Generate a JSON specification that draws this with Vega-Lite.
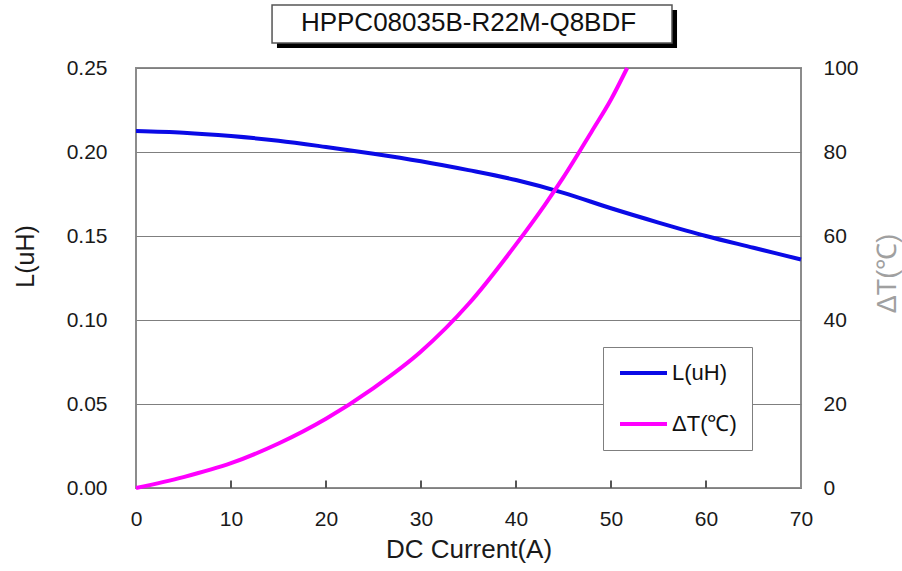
{
  "$schema": "https://vega.github.io/schema/vega-lite/v6.json",
  "width": 665,
  "height": 420,
  "autosize": {"type": "none"},
  "padding": {"left": 136, "top": 68, "right": 101, "bottom": 83},
  "background": "white",
  "config": {
    "view": {"stroke": "#8c8c8c", "strokeWidth": 2},
    "font": "Liberation Sans",
    "axis": {"labelFont": "Liberation Sans", "titleFont": "Liberation Sans", "labelColor": "#1a1a1a", "titleColor": "#1a1a1a", "titleFontWeight": "normal"}
  },
  "title": {"text": "HPPC08035B-R22M-Q8BDF", "fontSize": 26, "fontWeight": "normal", "color": "#111111", "anchor": "middle", "offset": 0, "dy": 32, "font": "Liberation Sans"},
  "datasets": {
    "curves": [
      {"I": 0, "series": "L(uH)", "v": 0.2125},
      {"I": 5, "series": "L(uH)", "v": 0.2115},
      {"I": 10, "series": "L(uH)", "v": 0.2095},
      {"I": 15, "series": "L(uH)", "v": 0.2067},
      {"I": 20, "series": "L(uH)", "v": 0.2030},
      {"I": 25, "series": "L(uH)", "v": 0.1990},
      {"I": 30, "series": "L(uH)", "v": 0.1945},
      {"I": 35, "series": "L(uH)", "v": 0.1892},
      {"I": 40, "series": "L(uH)", "v": 0.1833},
      {"I": 45, "series": "L(uH)", "v": 0.1757},
      {"I": 50, "series": "L(uH)", "v": 0.1665},
      {"I": 55, "series": "L(uH)", "v": 0.1580},
      {"I": 60, "series": "L(uH)", "v": 0.1500},
      {"I": 65, "series": "L(uH)", "v": 0.1430},
      {"I": 70, "series": "L(uH)", "v": 0.1360},
      {"I": 0, "series": "ΔT(℃)", "v": 0},
      {"I": 5, "series": "ΔT(℃)", "v": 2.6},
      {"I": 10, "series": "ΔT(℃)", "v": 5.9},
      {"I": 15, "series": "ΔT(℃)", "v": 10.6},
      {"I": 20, "series": "ΔT(℃)", "v": 16.5},
      {"I": 25, "series": "ΔT(℃)", "v": 23.8},
      {"I": 30, "series": "ΔT(℃)", "v": 32.5},
      {"I": 35, "series": "ΔT(℃)", "v": 43.8},
      {"I": 40, "series": "ΔT(℃)", "v": 58},
      {"I": 43, "series": "ΔT(℃)", "v": 67.3},
      {"I": 45, "series": "ΔT(℃)", "v": 74},
      {"I": 48, "series": "ΔT(℃)", "v": 85},
      {"I": 50, "series": "ΔT(℃)", "v": 92.5},
      {"I": 51.7, "series": "ΔT(℃)", "v": 100}
    ],
    "xticks": [{"I": 10, "t0": 0, "t1": 1.8}, {"I": 20, "t0": 0, "t1": 1.8}, {"I": 30, "t0": 0, "t1": 1.8}, {"I": 40, "t0": 0, "t1": 1.8}, {"I": 50, "t0": 0, "t1": 1.8}, {"I": 60, "t0": 0, "t1": 1.8}]
  },
  "layer": [
    {
      "data": {"values": [{}]},
      "layer": [
        {
          "mark": {"type": "rect", "fill": "black"},
          "encoding": {
            "x": {"datum": 14.84, "type": "quantitative"},
            "x2": {"datum": 56.95},
            "y": {"datum": 113.8, "type": "quantitative", "scale": {"domain": [0, 100], "nice": false}, "axis": null},
            "y2": {"datum": 104.76}
          }
        },
        {
          "mark": {"type": "rect", "fill": "white", "stroke": "#555555", "strokeWidth": 1.5},
          "encoding": {
            "x": {"datum": 14.32, "type": "quantitative"},
            "x2": {"datum": 56.42},
            "y": {"datum": 115.0, "type": "quantitative"},
            "y2": {"datum": 105.95}
          }
        }
      ]
    },
    {
      "data": {"name": "curves"},
      "transform": [{"filter": "datum.series === 'L(uH)'"}],
      "mark": {"type": "line", "strokeWidth": 4, "interpolate": "monotone"},
      "encoding": {
        "x": {"field": "I", "type": "quantitative", "scale": {"domain": [0, 70], "nice": false},
          "axis": {"title": "DC Current(A)", "values": [0, 10, 20, 30, 40, 50, 60, 70], "grid": false, "domain": false, "ticks": false, "labelFontSize": 21, "titleFontSize": 26, "labelPadding": 20, "labelFlush": false, "titlePadding": 7}},
        "y": {"field": "v", "type": "quantitative", "scale": {"domain": [0, 0.25], "nice": false, "zero": true},
          "axis": {"orient": "left", "title": "L(uH)", "values": [0, 0.05, 0.1, 0.15, 0.2, 0.25], "format": ".2f", "grid": true, "gridColor": "#7f7f7f", "gridWidth": 1, "ticks": false, "domain": false, "labelPadding": 29, "labelFontSize": 21, "titleFontSize": 25, "titleAngle": 270, "titleX": -111, "titleY": 188, "titleAlign": "center", "titleBaseline": "middle"}},
        "color": {"field": "series", "type": "nominal",
          "scale": {"domain": ["L(uH)", "ΔT(℃)"], "range": ["#0a0ae6", "#ff00ff"]},
          "legend": {"orient": "none", "legendX": 467, "legendY": 279, "title": null, "symbolType": "stroke", "symbolSize": 2209, "symbolStrokeWidth": 4, "clipHeight": 22, "labelFontSize": 22, "labelFont": "Liberation Sans", "labelColor": "#111111", "fillColor": "white", "strokeColor": "#7f7f7f", "padding": 15, "rowPadding": 29, "labelOffset": 3}}
      }
    },
    {
      "data": {"name": "curves"},
      "transform": [{"filter": "datum.series !== 'L(uH)'"}],
      "mark": {"type": "line", "strokeWidth": 4, "interpolate": "monotone"},
      "encoding": {
        "x": {"field": "I", "type": "quantitative"},
        "y": {"field": "v", "type": "quantitative", "scale": {"domain": [0, 100], "nice": false},
          "axis": {"orient": "right", "title": "ΔT(℃)", "values": [0, 20, 40, 60, 80, 100], "grid": false, "ticks": false, "domain": false, "labelPadding": 22, "labelFontSize": 21, "titleFontSize": 27, "titleColor": "#a0a0a0", "titleAngle": 270, "titleX": 86, "titleY": 205, "titleAlign": "center", "titleBaseline": "middle"}},
        "color": {"field": "series", "type": "nominal"}
      }
    },
    {
      "data": {"name": "xticks"},
      "mark": {"type": "rule", "stroke": "#555555", "strokeWidth": 2},
      "encoding": {
        "x": {"field": "I", "type": "quantitative"},
        "y": {"field": "t0", "type": "quantitative", "scale": {"domain": [0, 100], "nice": false}, "axis": null},
        "y2": {"field": "t1"}
      }
    }
  ],
  "resolve": {"scale": {"y": "independent"}}
}
